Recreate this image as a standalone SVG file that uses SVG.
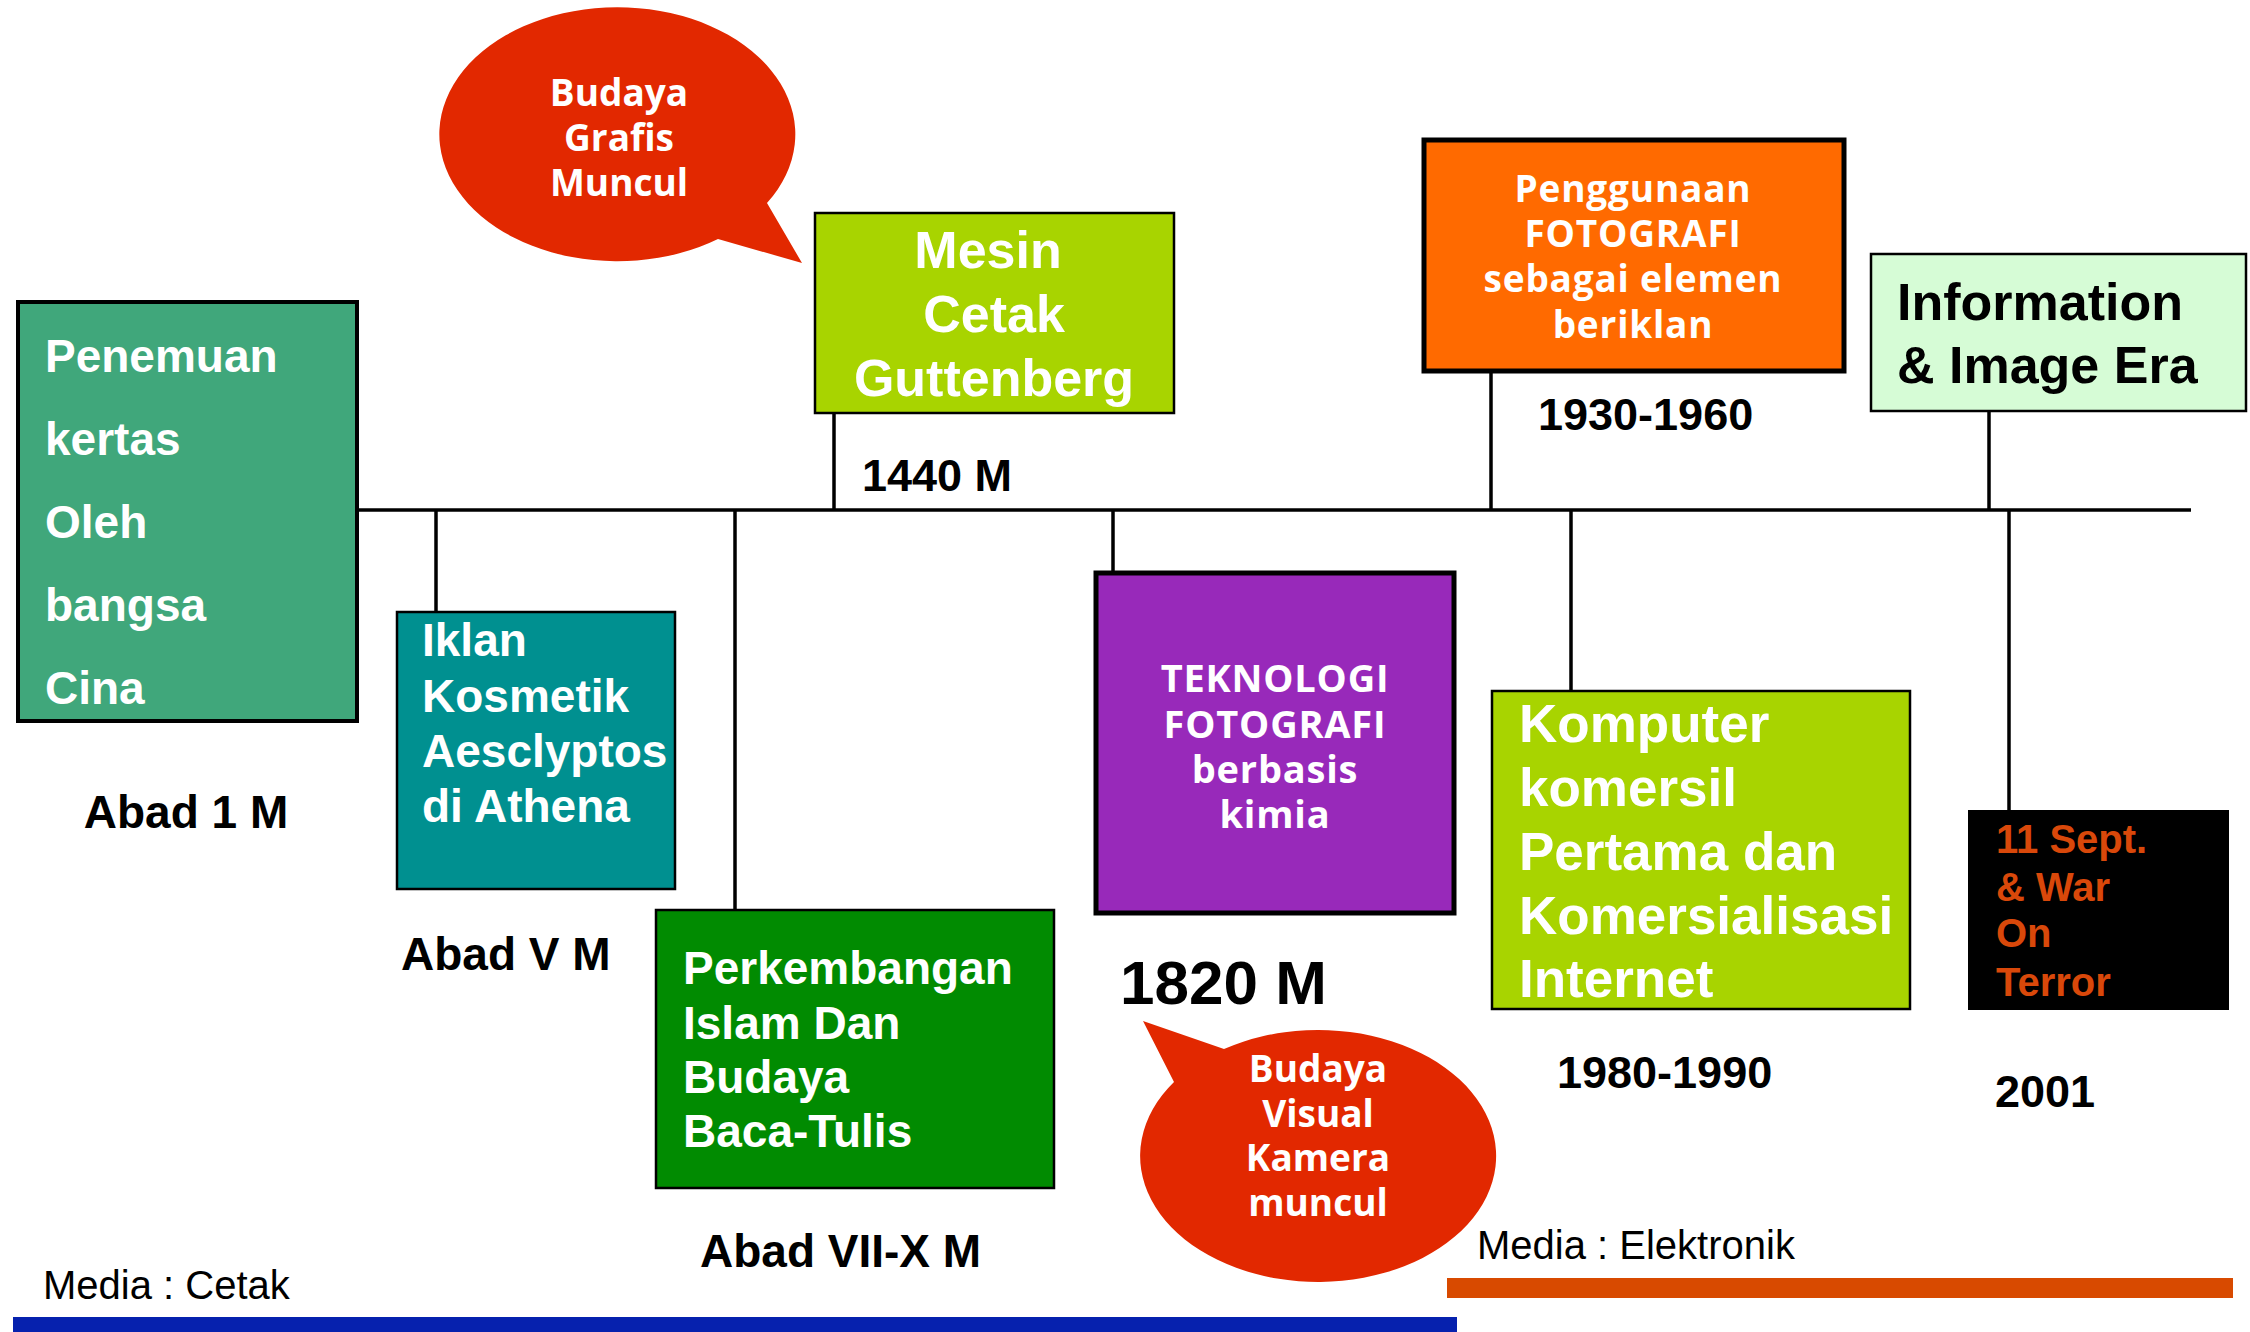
<svg xmlns="http://www.w3.org/2000/svg" width="2250" height="1332" viewBox="0 0 2250 1332">
<style>
.ab{font-family:"Liberation Sans",Arial,sans-serif;font-weight:bold;}
.os{font-family:"Open Sans","Noto Sans",sans-serif;font-weight:bold;}
.sp{letter-spacing:0.8px;}
.w{fill:#ffffff;}
.k{fill:#000000;}
.line{stroke:#000;stroke-width:3.5;fill:none;}
.lbl{font-family:"Liberation Sans",Arial,sans-serif;font-weight:bold;fill:#000;}
.reg{font-family:"Liberation Sans",Arial,sans-serif;font-size:40px;fill:#000;}
</style>
<rect width="2250" height="1332" fill="#ffffff"/>

<g id="connectors">
  <line class="line" x1="357" y1="510" x2="2191" y2="510" stroke-width="4"/>
  <line class="line" x1="436" y1="510" x2="436" y2="611"/>
  <line class="line" x1="735" y1="510" x2="735" y2="910"/>
  <line class="line" x1="834" y1="413" x2="834" y2="510"/>
  <line class="line" x1="1113" y1="510" x2="1113" y2="571"/>
  <line class="line" x1="1491" y1="372" x2="1491" y2="510"/>
  <line class="line" x1="1571" y1="510" x2="1571" y2="690"/>
  <line class="line" x1="1989" y1="412" x2="1989" y2="510"/>
  <line class="line" x1="2009" y1="510" x2="2009" y2="810"/>
</g>

<g id="node-penemuan">
  <rect x="18" y="302" width="339" height="419" fill="#40A77B" stroke="#000" stroke-width="4"/>
  <g class="ab w" font-size="46">
    <text x="45" y="372">Penemuan</text>
    <text x="45" y="455">kertas</text>
    <text x="45" y="538">Oleh</text>
    <text x="45" y="621">bangsa</text>
    <text x="45" y="704">Cina</text>
  </g>
  <text class="lbl" font-size="46" x="186" y="828" text-anchor="middle">Abad 1 M</text>
</g>

<g id="node-iklan">
  <rect x="397" y="612" width="278" height="277" fill="#009090" stroke="#000" stroke-width="2.5"/>
  <g class="ab w" font-size="46">
    <text x="422" y="656">Iklan</text>
    <text x="422" y="712">Kosmetik</text>
    <text x="422" y="767">Aesclyptos</text>
    <text x="422" y="822">di Athena</text>
  </g>
  <text class="lbl" font-size="46" x="401" y="970">Abad V M</text>
</g>

<g id="node-islam">
  <rect x="656" y="910" width="398" height="278" fill="#018B01" stroke="#000" stroke-width="2.5"/>
  <g class="ab w" font-size="46">
    <text x="683" y="984">Perkembangan</text>
    <text x="683" y="1039">Islam Dan</text>
    <text x="683" y="1093">Budaya</text>
    <text x="683" y="1147">Baca-Tulis</text>
  </g>
  <text class="lbl" font-size="46" x="700" y="1267">Abad VII-X M</text>
</g>

<g id="node-budaya-grafis">
  <path d="M 767 203 L 802 263 L 718 239 A 178 127 0 1 1 767 203 Z" fill="#E22800"/>
  <g class="os w" font-size="37" text-anchor="middle">
    <text x="619" y="106">Budaya</text>
    <text x="619" y="151">Grafis</text>
    <text x="619" y="196">Muncul</text>
  </g>
</g>

<g id="node-mesin">
  <rect x="815" y="213" width="359" height="200" fill="#A8D400" stroke="#000" stroke-width="2.5"/>
  <g class="ab w" font-size="52" text-anchor="middle">
    <text x="988" y="268">Mesin</text>
    <text x="994" y="332">Cetak</text>
    <text x="994" y="396">Guttenberg</text>
  </g>
  <text class="lbl" font-size="45" x="862" y="491">1440 M</text>
</g>

<g id="node-teknologi">
  <rect x="1096" y="573" width="358" height="340" fill="#9829BA" stroke="#000" stroke-width="5"/>
  <g class="os sp w" font-size="38" text-anchor="middle">
    <text x="1275" y="692">TEKNOLOGI</text>
    <text x="1275" y="738">FOTOGRAFI</text>
    <text x="1275" y="783">berbasis</text>
    <text x="1275" y="828">kimia</text>
  </g>
  <text class="lbl" font-size="62" x="1120" y="1004">1820 M</text>
</g>

<g id="node-budaya-visual">
  <path d="M 1143 1021 L 1224 1049 A 178 126 0 1 1 1174 1082 Z" fill="#E22800"/>
  <g class="os w" font-size="37" text-anchor="middle">
    <text x="1318" y="1082">Budaya</text>
    <text x="1318" y="1127">Visual</text>
    <text x="1318" y="1171">Kamera</text>
    <text x="1318" y="1216">muncul</text>
  </g>
</g>

<g id="node-penggunaan">
  <rect x="1424" y="140" width="420" height="231" fill="#FF6A00" stroke="#000" stroke-width="5"/>
  <g class="os sp w" font-size="37" text-anchor="middle">
    <text x="1633" y="202">Penggunaan</text>
    <text x="1633" y="247">FOTOGRAFI</text>
    <text x="1633" y="292">sebagai elemen</text>
    <text x="1633" y="338">beriklan</text>
  </g>
  <text class="lbl" font-size="45" x="1538" y="430">1930-1960</text>
</g>

<g id="node-komputer">
  <rect x="1492" y="691" width="418" height="318" fill="#A8D400" stroke="#000" stroke-width="2.5"/>
  <g class="ab w" font-size="53">
    <text x="1519" y="742">Komputer</text>
    <text x="1519" y="806">komersil</text>
    <text x="1519" y="870">Pertama dan</text>
    <text x="1519" y="934">Komersialisasi</text>
    <text x="1519" y="997">Internet</text>
  </g>
  <text class="lbl" font-size="45" x="1557" y="1088">1980-1990</text>
</g>

<g id="node-information">
  <rect x="1871" y="254" width="375" height="157" fill="#D6FCD6" stroke="#000" stroke-width="2.5"/>
  <g class="ab k" font-size="52">
    <text x="1897" y="320">Information</text>
    <text x="1897" y="383">&amp; Image Era</text>
  </g>
</g>

<g id="node-sept">
  <rect x="1968" y="810" width="261" height="200" fill="#000000"/>
  <g class="ab" font-size="40" fill="#D9480A">
    <text x="1996" y="853">11 Sept.</text>
    <text x="1996" y="901">&amp; War</text>
    <text x="1996" y="947">On</text>
    <text x="1996" y="996">Terror</text>
  </g>
  <text class="lbl" font-size="45" x="1995" y="1107">2001</text>
</g>

<g id="legend">
  <text class="reg" x="43" y="1299">Media : Cetak</text>
  <rect x="13" y="1317" width="1444" height="15" fill="#0621AE"/>
  <text class="reg" x="1477" y="1259">Media : Elektronik</text>
  <rect x="1447" y="1278" width="786" height="20" fill="#D84A00"/>
</g>
</svg>
